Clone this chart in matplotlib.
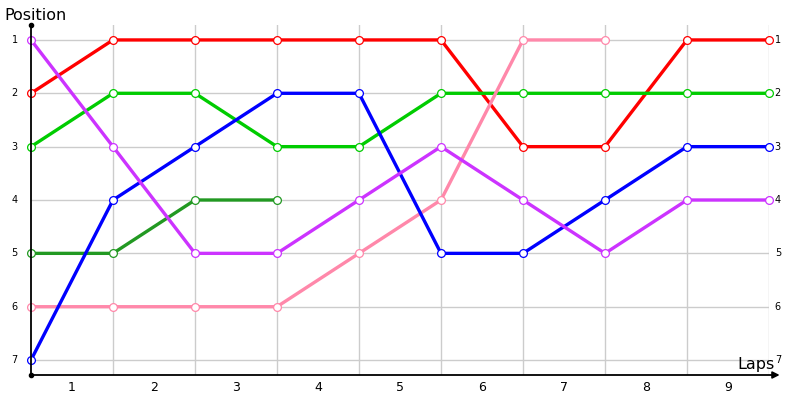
import numpy as np
import matplotlib
matplotlib.use("Agg")
import matplotlib.pyplot as plt

# lap boundaries 0..9, positions per driver (nan = no data)
laps = ["1", "2", "3", "4", "5", "6", "7", "8", "9"]
positions = [1, 2, 3, 4, 5, 6, 7]
nan = np.nan
red = [2, 1, 1, 1, 1, 1, 3, 3, 1, 1]
green = [3, 2, 2, 3, 3, 2, 2, 2, 2, 2]
darkgreen = [5, 5, 4, 4, nan, nan, nan, nan, nan, nan]
pink = [6, 6, 6, 6, 5, 4, 1, 1, nan, nan]
blue = [7, 4, 3, 2, 2, 5, 5, 4, 3, 3]
purple = [1, 3, 5, 5, 4, 3, 4, 5, 4, 4]

series = [
    (red, "#ff0000"),
    (green, "#00cc00"),
    (darkgreen, "#229922"),
    (pink, "#ff88aa"),
    (blue, "#0000ff"),
    (purple, "#cc33ff"),
]

fig = plt.figure(figsize=(8, 4), dpi=100)
ax = fig.add_axes([31 / 800, 25 / 400, 738 / 800, 350 / 400])
ax.set_xlim(0, 9)
ax.set_ylim(7.28, 0.72)

# grid
for x in range(1, 10):
    ax.axvline(x, color="#cccccc", lw=1, zorder=0)
for y in positions:
    ax.axhline(y, color="#cccccc", lw=1, zorder=0)

xs = np.arange(10)
for vals, col in series:
    ax.plot(xs, vals, color=col, lw=2.4, marker="o", ms=5.6,
            mfc="white", mec=col, mew=0.9, zorder=3, clip_on=False)

for s in ax.spines.values():
    s.set_visible(False)
ax.set_xticks([])
ax.set_yticks([])

# axes lines with arrow / dots
ax.plot([0, 0], [7.28, 0.72], color="black", lw=1.3, clip_on=False, zorder=4)
ax.plot([0], [0.72], "o", color="black", ms=3, clip_on=False, zorder=4)
ax.plot([0], [7.28], "o", color="black", ms=3, clip_on=False, zorder=4)
ax.annotate("", xy=(9.13, 7.28), xytext=(0, 7.28),
            arrowprops=dict(arrowstyle="-|>", color="black", lw=1.3,
                            mutation_scale=10, shrinkA=0, shrinkB=0),
            annotation_clip=False, zorder=4)

# tick labels
for p in positions:
    ax.text(-0.2, p, str(p), ha="center", va="center", fontsize=7)
    ax.text(9.07, p, str(p), ha="left", va="center", fontsize=7)
for i, lab in enumerate(laps):
    ax.text(i + 0.5, 7.28 + 0.23, lab, ha="center", va="center", fontsize=9)

fig.text(4 / 800, 1 - 16 / 400, "Position", ha="left", va="center", fontsize=11.5)
fig.text(775 / 800, 1 - 365 / 400, "Laps", ha="right", va="center", fontsize=11.5)

fig.savefig("out.png", dpi=100)
